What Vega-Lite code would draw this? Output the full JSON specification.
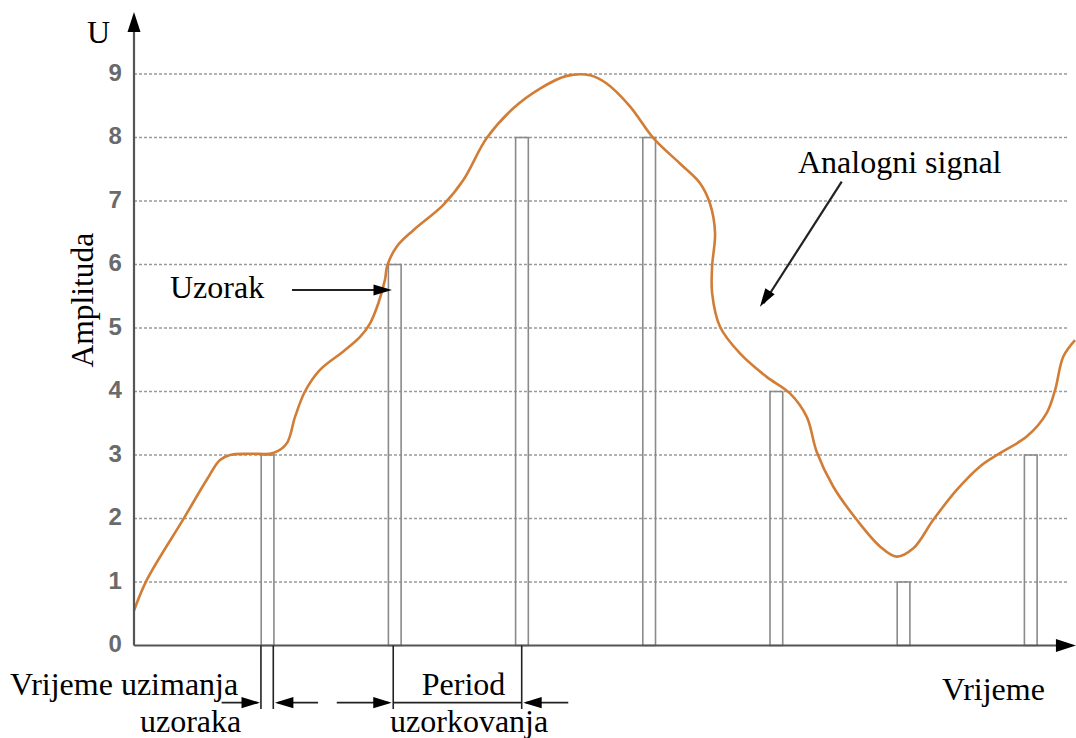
{
  "$schema": "https://vega.github.io/schema/vega-lite/v6.json",
  "width": 1076,
  "height": 738,
  "padding": 0,
  "autosize": {"type": "none"},
  "background": "white",
  "config": {"view": {"stroke": null}},
  "datasets": {
    "ticks": [{"v": 0}, {"v": 1}, {"v": 2}, {"v": 3}, {"v": 4}, {"v": 5}, {"v": 6}, {"v": 7}, {"v": 8}, {"v": 9}],
    "samples": [
      {"t": 1, "t2": 1.1, "v": 3},
      {"t": 2, "t2": 2.1, "v": 6},
      {"t": 3, "t2": 3.1, "v": 8},
      {"t": 4, "t2": 4.1, "v": 8},
      {"t": 5, "t2": 5.1, "v": 4},
      {"t": 6, "t2": 6.1, "v": 1},
      {"t": 7, "t2": 7.1, "v": 3}
    ],
    "signal": [
      {"i": 0, "t": 0, "v": 0.55}, {"i": 1, "t": 0.1, "v": 1.03}, {"i": 2, "t": 0.388, "v": 1.99},
      {"i": 3, "t": 0.572, "v": 2.61}, {"i": 4, "t": 0.676, "v": 2.92}, {"i": 5, "t": 0.755, "v": 3.0},
      {"i": 6, "t": 0.912, "v": 3.02}, {"i": 7, "t": 1.095, "v": 3.03}, {"i": 8, "t": 1.2, "v": 3.18},
      {"i": 9, "t": 1.266, "v": 3.6}, {"i": 10, "t": 1.344, "v": 4.0}, {"i": 11, "t": 1.462, "v": 4.34},
      {"i": 12, "t": 1.645, "v": 4.63}, {"i": 13, "t": 1.777, "v": 4.86}, {"i": 14, "t": 1.855, "v": 5.07},
      {"i": 15, "t": 1.921, "v": 5.39}, {"i": 16, "t": 1.973, "v": 5.76}, {"i": 17, "t": 1.991, "v": 5.98},
      {"i": 18, "t": 2.065, "v": 6.28}, {"i": 19, "t": 2.196, "v": 6.54}, {"i": 20, "t": 2.432, "v": 6.94},
      {"i": 21, "t": 2.589, "v": 7.33}, {"i": 22, "t": 2.773, "v": 7.99}, {"i": 23, "t": 2.982, "v": 8.46},
      {"i": 24, "t": 3.192, "v": 8.77}, {"i": 25, "t": 3.402, "v": 8.97}, {"i": 26, "t": 3.585, "v": 8.98},
      {"i": 27, "t": 3.716, "v": 8.85}, {"i": 28, "t": 3.899, "v": 8.49}, {"i": 29, "t": 4.083, "v": 7.99},
      {"i": 30, "t": 4.292, "v": 7.59}, {"i": 31, "t": 4.45, "v": 7.28}, {"i": 32, "t": 4.528, "v": 6.96},
      {"i": 33, "t": 4.568, "v": 6.5}, {"i": 34, "t": 4.545, "v": 5.97}, {"i": 35, "t": 4.545, "v": 5.55},
      {"i": 36, "t": 4.607, "v": 5.02}, {"i": 37, "t": 4.764, "v": 4.6}, {"i": 38, "t": 4.974, "v": 4.23},
      {"i": 39, "t": 5.157, "v": 3.97}, {"i": 40, "t": 5.289, "v": 3.6}, {"i": 41, "t": 5.367, "v": 3.05},
      {"i": 42, "t": 5.498, "v": 2.5}, {"i": 43, "t": 5.682, "v": 1.98}, {"i": 44, "t": 5.865, "v": 1.56},
      {"i": 45, "t": 5.996, "v": 1.4}, {"i": 46, "t": 6.127, "v": 1.53}, {"i": 47, "t": 6.284, "v": 1.98},
      {"i": 48, "t": 6.468, "v": 2.45}, {"i": 49, "t": 6.651, "v": 2.82}, {"i": 50, "t": 6.808, "v": 3.03},
      {"i": 51, "t": 7.018, "v": 3.29}, {"i": 52, "t": 7.175, "v": 3.66}, {"i": 53, "t": 7.241, "v": 4.02},
      {"i": 54, "t": 7.306, "v": 4.55}, {"i": 55, "t": 7.398, "v": 4.81}
    ],
    "segments": [
      {"kind": "axis", "t": 0, "v": 0, "t2": 7.37, "v2": 0},
      {"kind": "axis", "t": 0, "v": 0, "t2": 0, "v2": 9.75},
      {"kind": "arrow", "t": 1.242, "v": 5.598, "t2": 2.0, "v2": 5.598},
      {"kind": "arrow", "t": 5.564, "v": 7.304, "t2": 4.95, "v2": 5.39},
      {"kind": "dim", "t": 0.998, "v": 0, "t2": 0.998, "v2": -1.0},
      {"kind": "dim", "t": 1.095, "v": 0, "t2": 1.095, "v2": -1.0},
      {"kind": "dim", "t": 2.038, "v": 0, "t2": 2.038, "v2": -1.0},
      {"kind": "dim", "t": 3.048, "v": 0, "t2": 3.048, "v2": -1.0},
      {"kind": "dim", "t": 0.689, "v": -0.9, "t2": 0.97, "v2": -0.9},
      {"kind": "dim", "t": 1.447, "v": -0.9, "t2": 1.13, "v2": -0.9},
      {"kind": "dim", "t": 1.594, "v": -0.9, "t2": 2.0, "v2": -0.9},
      {"kind": "dim", "t": 2.038, "v": -0.9, "t2": 3.048, "v2": -0.9},
      {"kind": "dim", "t": 3.414, "v": -0.9, "t2": 3.08, "v2": -0.9}
    ],
    "heads": [
      {"kind": "axis", "dir": "up", "t": 0, "v": 9.976},
      {"kind": "axis", "dir": "right", "t": 7.405, "v": 0},
      {"kind": "note", "dir": "right", "t": 2.028, "v": 5.598},
      {"kind": "note", "dir": "right", "t": 0.99, "v": -0.9},
      {"kind": "note", "dir": "right", "t": 2.026, "v": -0.9},
      {"kind": "note", "dir": "left", "t": 1.108, "v": -0.9},
      {"kind": "note", "dir": "left", "t": 3.06, "v": -0.9},
      {"kind": "note", "dir": "diag", "t": 4.921, "v": 5.335}
    ],
    "labels": [
      {"text": "U", "t": -0.37, "v": 9.488},
      {"text": "Uzorak", "t": 0.283, "v": 5.472},
      {"text": "Analogni signal", "t": 5.22, "v": 7.436},
      {"text": "Vrijeme", "t": 6.352, "v": -0.858},
      {"text": "Vrijeme uzimanja", "t": -0.975, "v": -0.78},
      {"text": "uzoraka", "t": 0.047, "v": -1.36},
      {"text": "Period", "t": 2.262, "v": -0.78},
      {"text": "uzorkovanja", "t": 2.013, "v": -1.36}
    ],
    "ytitle": [{"text": "Amplituda", "t": -0.322, "v": 5.44}]
  },
  "layer": [
    {
      "data": {"name": "ticks"},
      "transform": [{"filter": "datum.v > 0"}],
      "mark": {"type": "rule", "color": "#9a9a9a", "strokeWidth": 1.3, "strokeDash": [3, 2]},
      "encoding": {
        "x": {"datum": 0, "type": "quantitative", "scale": {"domain": [-1.0535, 7.4057], "nice": false, "zero": false}, "axis": null},
        "x2": {"datum": 7.343},
        "y": {"field": "v", "type": "quantitative", "scale": {"domain": [-1.4567, 10.165], "nice": false, "zero": false}, "axis": null}
      }
    },
    {
      "data": {"name": "samples"},
      "mark": {"type": "rect", "fill": "transparent", "stroke": "#8a8a8a", "strokeWidth": 1.6},
      "encoding": {
        "x": {"field": "t", "type": "quantitative", "scale": {"domain": [-1.0535, 7.4057], "nice": false, "zero": false}, "axis": null},
        "x2": {"field": "t2"},
        "y": {"field": "v", "type": "quantitative", "scale": {"domain": [-1.4567, 10.165], "nice": false, "zero": false}, "axis": null},
        "y2": {"datum": 0}
      }
    },
    {
      "data": {"name": "signal"},
      "mark": {"type": "line", "interpolate": "catmull-rom", "color": "#D27D36", "strokeWidth": 2.6},
      "encoding": {
        "x": {"field": "t", "type": "quantitative", "scale": {"domain": [-1.0535, 7.4057], "nice": false, "zero": false}, "axis": null},
        "y": {"field": "v", "type": "quantitative", "scale": {"domain": [-1.4567, 10.165], "nice": false, "zero": false}, "axis": null},
        "order": {"field": "i", "type": "quantitative"}
      }
    },
    {
      "data": {"name": "segments"},
      "transform": [{"filter": "datum.kind == 'axis'"}],
      "mark": {"type": "rule", "color": "#555555", "strokeWidth": 2.2},
      "encoding": {
        "x": {"field": "t", "type": "quantitative", "scale": {"domain": [-1.0535, 7.4057], "nice": false, "zero": false}, "axis": null},
        "x2": {"field": "t2"},
        "y": {"field": "v", "type": "quantitative", "scale": {"domain": [-1.4567, 10.165], "nice": false, "zero": false}, "axis": null},
        "y2": {"field": "v2"}
      }
    },
    {
      "data": {"name": "segments"},
      "transform": [{"filter": "datum.kind == 'arrow'"}],
      "mark": {"type": "rule", "color": "#222222", "strokeWidth": 2.2},
      "encoding": {
        "x": {"field": "t", "type": "quantitative", "scale": {"domain": [-1.0535, 7.4057], "nice": false, "zero": false}, "axis": null},
        "x2": {"field": "t2"},
        "y": {"field": "v", "type": "quantitative", "scale": {"domain": [-1.4567, 10.165], "nice": false, "zero": false}, "axis": null},
        "y2": {"field": "v2"}
      }
    },
    {
      "data": {"name": "segments"},
      "transform": [{"filter": "datum.kind == 'dim'"}],
      "mark": {"type": "rule", "color": "#222222", "strokeWidth": 1.6},
      "encoding": {
        "x": {"field": "t", "type": "quantitative", "scale": {"domain": [-1.0535, 7.4057], "nice": false, "zero": false}, "axis": null},
        "x2": {"field": "t2"},
        "y": {"field": "v", "type": "quantitative", "scale": {"domain": [-1.4567, 10.165], "nice": false, "zero": false}, "axis": null},
        "y2": {"field": "v2"}
      }
    },
    {
      "data": {"name": "heads"},
      "transform": [{"filter": "datum.kind == 'axis' && datum.dir == 'up'"}],
      "mark": {"type": "point", "shape": "M0,0L-2,-0.65L-2,0.65Z", "size": 400, "filled": true, "color": "#000000", "opacity": 1, "angle": 270},
      "encoding": {
        "x": {"field": "t", "type": "quantitative", "scale": {"domain": [-1.0535, 7.4057], "nice": false, "zero": false}, "axis": null},
        "y": {"field": "v", "type": "quantitative", "scale": {"domain": [-1.4567, 10.165], "nice": false, "zero": false}, "axis": null}
      }
    },
    {
      "data": {"name": "heads"},
      "transform": [{"filter": "datum.kind == 'axis' && datum.dir == 'right'"}],
      "mark": {"type": "point", "shape": "M0,0L-2,-0.65L-2,0.65Z", "size": 400, "filled": true, "color": "#000000", "opacity": 1, "angle": 0},
      "encoding": {
        "x": {"field": "t", "type": "quantitative", "scale": {"domain": [-1.0535, 7.4057], "nice": false, "zero": false}, "axis": null},
        "y": {"field": "v", "type": "quantitative", "scale": {"domain": [-1.4567, 10.165], "nice": false, "zero": false}, "axis": null}
      }
    },
    {
      "data": {"name": "heads"},
      "transform": [{"filter": "datum.kind == 'note' && datum.dir == 'right'"}],
      "mark": {"type": "point", "shape": "M0,0L-2,-0.6L-2,0.6Z", "size": 340, "filled": true, "color": "#000000", "opacity": 1, "angle": 0},
      "encoding": {
        "x": {"field": "t", "type": "quantitative", "scale": {"domain": [-1.0535, 7.4057], "nice": false, "zero": false}, "axis": null},
        "y": {"field": "v", "type": "quantitative", "scale": {"domain": [-1.4567, 10.165], "nice": false, "zero": false}, "axis": null}
      }
    },
    {
      "data": {"name": "heads"},
      "transform": [{"filter": "datum.kind == 'note' && datum.dir == 'left'"}],
      "mark": {"type": "point", "shape": "M0,0L-2,-0.6L-2,0.6Z", "size": 340, "filled": true, "color": "#000000", "opacity": 1, "angle": 180},
      "encoding": {
        "x": {"field": "t", "type": "quantitative", "scale": {"domain": [-1.0535, 7.4057], "nice": false, "zero": false}, "axis": null},
        "y": {"field": "v", "type": "quantitative", "scale": {"domain": [-1.4567, 10.165], "nice": false, "zero": false}, "axis": null}
      }
    },
    {
      "data": {"name": "heads"},
      "transform": [{"filter": "datum.kind == 'note' && datum.dir == 'diag'"}],
      "mark": {"type": "point", "shape": "M0,0L-2,-0.6L-2,0.6Z", "size": 340, "filled": true, "color": "#000000", "opacity": 1, "angle": 123},
      "encoding": {
        "x": {"field": "t", "type": "quantitative", "scale": {"domain": [-1.0535, 7.4057], "nice": false, "zero": false}, "axis": null},
        "y": {"field": "v", "type": "quantitative", "scale": {"domain": [-1.4567, 10.165], "nice": false, "zero": false}, "axis": null}
      }
    },
    {
      "data": {"name": "ticks"},
      "mark": {"type": "text", "font": "Liberation Sans", "fontSize": 24, "fontWeight": "bold", "color": "#6a6a6a", "align": "center", "baseline": "middle"},
      "encoding": {
        "x": {"datum": -0.148, "type": "quantitative", "scale": {"domain": [-1.0535, 7.4057], "nice": false, "zero": false}, "axis": null},
        "y": {"field": "v", "type": "quantitative", "scale": {"domain": [-1.4567, 10.165], "nice": false, "zero": false}, "axis": null},
        "text": {"field": "v", "type": "quantitative"}
      }
    },
    {
      "data": {"name": "labels"},
      "mark": {"type": "text", "font": "Liberation Serif", "fontSize": 32, "color": "#000000", "align": "left", "baseline": "alphabetic"},
      "encoding": {
        "x": {"field": "t", "type": "quantitative", "scale": {"domain": [-1.0535, 7.4057], "nice": false, "zero": false}, "axis": null},
        "y": {"field": "v", "type": "quantitative", "scale": {"domain": [-1.4567, 10.165], "nice": false, "zero": false}, "axis": null},
        "text": {"field": "text", "type": "nominal"}
      }
    },
    {
      "data": {"name": "ytitle"},
      "mark": {"type": "text", "font": "Liberation Serif", "fontSize": 31.5, "color": "#000000", "align": "center", "baseline": "alphabetic", "angle": 270},
      "encoding": {
        "x": {"field": "t", "type": "quantitative", "scale": {"domain": [-1.0535, 7.4057], "nice": false, "zero": false}, "axis": null},
        "y": {"field": "v", "type": "quantitative", "scale": {"domain": [-1.4567, 10.165], "nice": false, "zero": false}, "axis": null},
        "text": {"field": "text", "type": "nominal"}
      }
    }
  ]
}
